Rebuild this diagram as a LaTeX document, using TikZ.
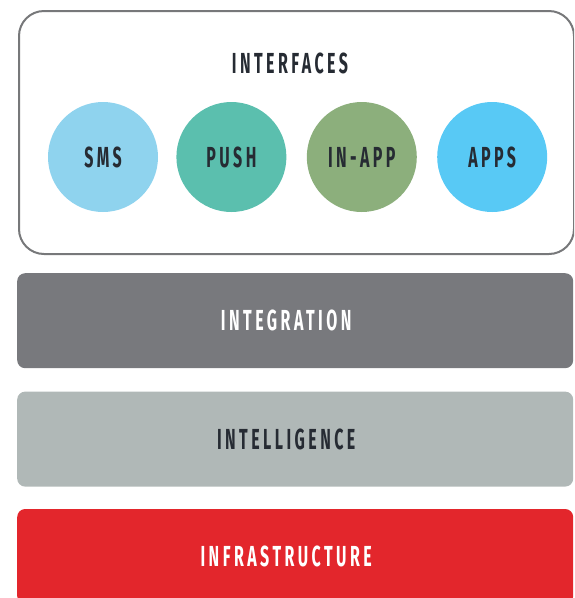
\documentclass[tikz,border=0pt]{standalone}
\usepackage{fontspec}
\newfontfamily\stackfont{Fira Sans}[FakeStretch=0.55,LetterSpace=12]
\usetikzlibrary{positioning}
\definecolor{inkdark}{HTML}{262B33}
\definecolor{framegray}{HTML}{77787A}
\definecolor{smsblue}{HTML}{8FD3EE}
\definecolor{pushteal}{HTML}{5BBFAE}
\definecolor{inappgreen}{HTML}{8CAF7C}
\definecolor{appsblue}{HTML}{58C9F5}
\definecolor{integgray}{HTML}{78797D}
\definecolor{intelgray}{HTML}{B0B8B7}
\definecolor{infrared}{HTML}{E3262C}

\begin{document}
\begin{tikzpicture}[
	x = 1pt, y = -1pt,
	node distance = 20pt,
	every node/.style = {
		font = \stackfont\bfseries\fontsize{29}{31}\selectfont
	},
	channel/.style = {
		circle,
		minimum size = 110pt,
		inner sep = 0pt,
		text = inkdark
	},
	layer/.style = {
		rounded corners = 8pt,
		minimum width = 556pt,
		minimum height = 95pt
	}
	]
	\clip (0,0) rectangle (574,598);
	
	% interfaces
	\node (frame) [draw = framegray, line width = 2pt, rounded corners = 25pt, minimum width = 555pt, minimum height = 243pt, anchor = north west] at (18,10) {};
	\node (interfaces_title) [text = inkdark] at (290,63) {INTERFACES};
	\node (sms) [channel, fill = smsblue] at (103,157) {SMS};
	\node (push) [channel, fill = pushteal, right = 18pt of sms] {PUSH};
	\node (inapp) [channel, fill = inappgreen, right = of push] {IN-APP};
	\node (apps) [channel, fill = appsblue, right = of inapp] {APPS};
	
	% layers
	\node (integration) [layer, fill = integgray, anchor = north west] at (17,273) {};
	\node [text = white, xshift = -9pt] at (integration.center) {INTEGRATION};
	
	\node (intelligence) [layer, fill = intelgray, below = 23pt of integration] {};
	\node [text = inkdark, xshift = -9pt] at (intelligence.center) {INTELLIGENCE};
	
	\node (infrastructure) [layer, fill = infrared, below = 22pt of intelligence] {};
	\node [text = white, xshift = -9pt] at (infrastructure.center) {INFRASTRUCTURE};
	
\end{tikzpicture}
\end{document}
